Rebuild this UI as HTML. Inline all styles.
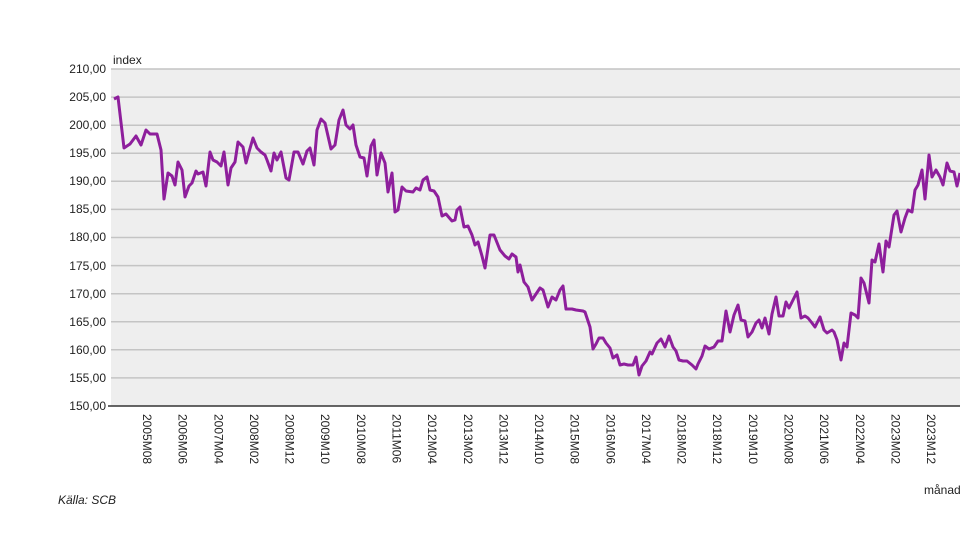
<!DOCTYPE html>
<html><head><meta charset="utf-8"><style>
body{margin:0;background:#fff;}
svg{display:block;font-family:"Liberation Sans",Arial,sans-serif;}
</style></head><body>
<svg width="960" height="540" viewBox="0 0 960 540">
<rect x="111" y="69" width="849" height="337" fill="#eeeeee"/>
<g stroke="#c4c4c4" stroke-width="1.5">
<line x1="111" x2="960" y1="69" y2="69"/><line x1="111" x2="960" y1="97.1" y2="97.1"/><line x1="111" x2="960" y1="125.2" y2="125.2"/><line x1="111" x2="960" y1="153.3" y2="153.3"/><line x1="111" x2="960" y1="181.3" y2="181.3"/><line x1="111" x2="960" y1="209.4" y2="209.4"/><line x1="111" x2="960" y1="237.5" y2="237.5"/><line x1="111" x2="960" y1="265.6" y2="265.6"/><line x1="111" x2="960" y1="293.7" y2="293.7"/><line x1="111" x2="960" y1="321.8" y2="321.8"/><line x1="111" x2="960" y1="349.8" y2="349.8"/><line x1="111" x2="960" y1="377.9" y2="377.9"/>
</g>
<line x1="108" x2="960" y1="406" y2="406" stroke="#333" stroke-width="1.5"/>
<g font-size="12" fill="#222" text-anchor="end">
<text x="106" y="73">210,00</text><text x="106" y="101">205,00</text><text x="106" y="129">200,00</text><text x="106" y="157">195,00</text><text x="106" y="185">190,00</text><text x="106" y="213">185,00</text><text x="106" y="241">180,00</text><text x="106" y="270">175,00</text><text x="106" y="298">170,00</text><text x="106" y="326">165,00</text><text x="106" y="354">160,00</text><text x="106" y="382">155,00</text><text x="106" y="410">150,00</text>
</g>
<text x="113" y="64" font-size="12" fill="#222">index</text>
<g font-size="12" fill="#222">
<text transform="translate(143,414) rotate(90)">2005M08</text>
<text transform="translate(178.6,414) rotate(90)">2006M06</text>
<text transform="translate(214.3,414) rotate(90)">2007M04</text>
<text transform="translate(249.9,414) rotate(90)">2008M02</text>
<text transform="translate(285.6,414) rotate(90)">2008M12</text>
<text transform="translate(321.2,414) rotate(90)">2009M10</text>
<text transform="translate(356.8,414) rotate(90)">2010M08</text>
<text transform="translate(392.5,414) rotate(90)">2011M06</text>
<text transform="translate(428.1,414) rotate(90)">2012M04</text>
<text transform="translate(463.8,414) rotate(90)">2013M02</text>
<text transform="translate(499.4,414) rotate(90)">2013M12</text>
<text transform="translate(535,414) rotate(90)">2014M10</text>
<text transform="translate(570.7,414) rotate(90)">2015M08</text>
<text transform="translate(606.3,414) rotate(90)">2016M06</text>
<text transform="translate(642,414) rotate(90)">2017M04</text>
<text transform="translate(677.6,414) rotate(90)">2018M02</text>
<text transform="translate(713.2,414) rotate(90)">2018M12</text>
<text transform="translate(748.9,414) rotate(90)">2019M10</text>
<text transform="translate(784.5,414) rotate(90)">2020M08</text>
<text transform="translate(820.2,414) rotate(90)">2021M06</text>
<text transform="translate(855.8,414) rotate(90)">2022M04</text>
<text transform="translate(891.5,414) rotate(90)">2023M02</text>
<text transform="translate(927.1,414) rotate(90)">2023M12</text>
</g>
<text x="924" y="494" font-size="12" fill="#222">månad</text>
<text x="58" y="504" font-size="12" font-style="italic" fill="#222">Källa: SCB</text>
<polyline fill="none" stroke="#8e1f9c" stroke-width="3" stroke-linejoin="round" points="
114,99 118,97 124,148 130,144 136,136 141,145 146,130 150,134 157,134 161,150 164,199 168,173 172,176 175,185 178,162 182,170 185,197 189,186 192,183 196,171 198,174 203,172 206,186 210,152 213,160 217,162 221,166 224,152 228,185 231,168 235,162 238,142 243,147 246,163 249,152 253,138 257,148 261,152 265,155 267,160 271,171 274,153 277,160 281,152 286,178 289,180 294,152 298,152 303,164 307,151 310,148 314,165 317,130 321,119 325,123 331,149 335,145 339,120 343,110 346,125 350,129 353,125 356,145 360,157 364,158 367,176 371,146 374,140 377,175 381,153 385,163 388,192 392,173 395,212 398,210 402,187 406,191 413,192 416,188 420,190 423,180 427,177 430,190 434,191 438,197 442,216 446,214 452,221 455,220 457,210 460,207 464,227 468,226 472,235 475,245 478,242 482,256 485,268 490,235 494,235 500,250 505,256 509,259 512,254 516,257 518,272 520,265 524,282 528,287 532,300 536,294 540,288 543,290 548,307 552,297 556,300 560,290 563,286 566,309 572,309 576,310 583,311 585,312 590,327 593,349 596,344 599,338 603,338 606,343 610,348 613,358 617,355 620,365 624,364 628,365 633,365 636,357 639,375 642,366 646,361 650,352 652,354 657,343 661,339 665,347 669,336 673,347 676,351 679,360 683,361 687,361 692,365 696,369 698,364 702,356 705,346 709,349 714,347 718,341 722,341 726,311 730,332 734,315 738,305 741,320 745,321 748,337 752,332 756,323 759,320 762,328 765,318 769,334 772,314 776,297 779,316 783,316 786,302 789,308 793,300 797,292 801,318 805,316 808,318 812,323 815,327 820,317 824,330 827,333 832,330 834,332 837,340 841,360 844,343 847,347 851,313 855,315 858,318 861,278 864,283 869,303 872,260 875,262 879,244 883,272 886,241 889,247 894,215 897,211 901,232 905,218 908,210 912,212 915,190 918,185 922,170 925,199 929,155 932,177 936,170 940,177 943,185 947,163 950,171 954,172 957,186 960,173"/>
</svg>
</body></html>
